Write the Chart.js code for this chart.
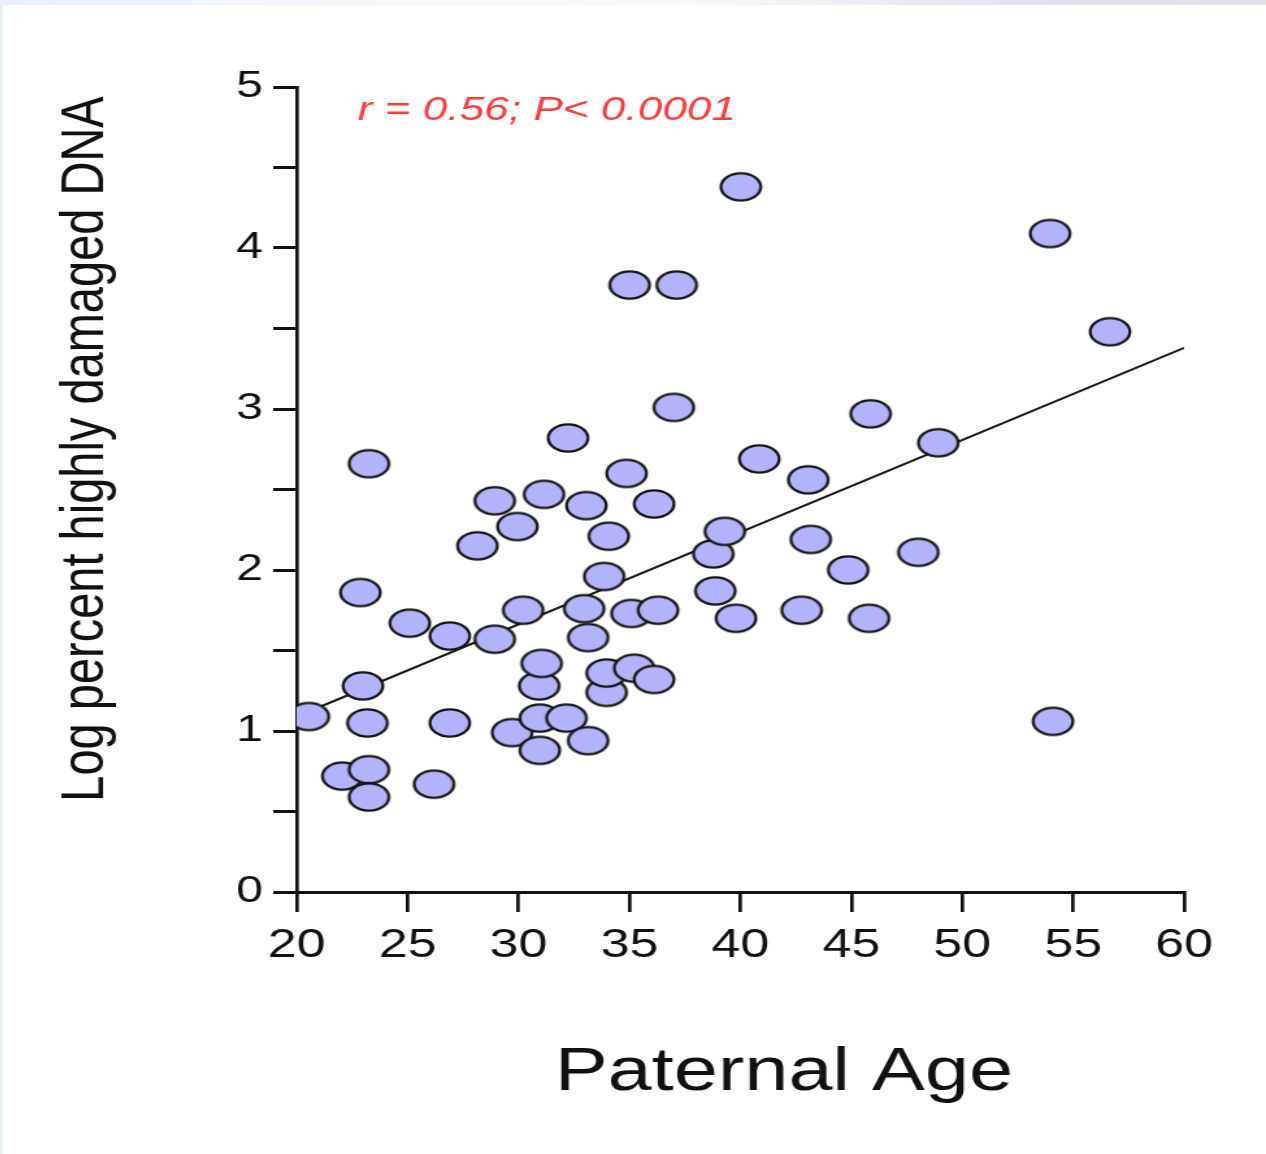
<!DOCTYPE html>
<html>
<head>
<meta charset="utf-8">
<script src="https://cdn.jsdelivr.net/npm/chart.js@4.4.1/dist/chart.umd.min.js"></script>
<style>
    html, body { margin: 0; padding: 0; width: 1266px; height: 1154px; overflow: hidden; background: #e7eff7; }
    .topStrip { position: absolute; left: 0; top: 0; width: 1266px; height: 5px;
        background: linear-gradient(to right, #e9f0fb, #f4f8fc 30%, #f9f7fd 55%, #e6e1ec 80%, #e2e0e8); }
    #ageChart { position: absolute; left: 3px; top: 5px; background: #fff; }
</style>
</head>
<body>
<div class="topStrip"></div>
<!-- drawn narrower and stretched sideways, like the original figure -->
<canvas id="ageChart" width="972" height="1149" style="width:1263px;height:1149px;"></canvas>
<script>
// paternal age vs log % highly damaged DNA
const ages = [20.55, 22.06, 23.26, 23.26, 23.19, 22.99, 22.87, 23.26, 25.10, 26.19,
    26.90, 26.90, 28.15, 28.93, 28.93, 29.95, 29.71, 30.21, 30.96, 30.96,
    30.93, 31.04, 31.15, 32.16, 32.23, 33.06, 32.96, 33.14, 33.14, 33.97,
    33.97, 34.07, 33.86, 34.87, 35.01, 35.09, 35.21, 36.11, 36.29, 36.11,
    37.13, 37.00, 38.78, 38.87, 39.30, 39.80, 40.02, 40.85, 42.76, 43.06,
    43.17, 44.86, 45.80, 45.87, 48.02, 48.92, 53.96, 54.09, 56.66];
const logDamage = [1.09, 0.72, 0.76, 0.59, 1.05, 1.28, 1.86, 2.66, 1.67, 0.67,
    1.59, 1.05, 2.15, 1.57, 2.43, 2.27, 0.99, 1.75, 0.88, 1.08,
    1.28, 1.42, 2.47, 1.08, 2.82, 2.40, 1.76, 1.58, 0.94, 1.24,
    1.36, 2.21, 1.96, 2.60, 3.77, 1.73, 1.39, 2.41, 1.75, 1.32,
    3.77, 3.01, 2.10, 1.87, 2.24, 1.70, 4.38, 2.69, 1.75, 2.56,
    2.19, 2.00, 1.70, 2.97, 2.11, 2.79, 4.09, 1.06, 3.48];

// regression line end points
const fitAges = [20, 60];
const fitValues = [1.09, 3.38];

const xTitle = 'Paternal Age';
const yTitle = 'Log percent highly damaged DNA';
const statsNote = 'r = 0.56; P< 0.0001';

const fontFamily = '"Liberation Sans", Arial, Helvetica, sans-serif';

// the figure's dots are slightly oval, so draw one and reuse it as the point style
function makeDot() {
    const c = document.createElement('canvas');
    c.width = 36;
    c.height = 32;
    const g = c.getContext('2d');
    g.beginPath();
    g.ellipse(18, 16, 15.3, 13.6, 0, 0, Math.PI * 2);
    g.fillStyle = '#b3b3fc';
    g.fill();
    g.lineWidth = 2.3;
    g.strokeStyle = '#141414';
    g.stroke();
    return c;
}

const textPlugin = {
    id: 'figureText',
    afterDraw(chart) {
        const ctx = chart.ctx;
        ctx.save();
        ctx.fillStyle = '#111';
        ctx.textAlign = 'center';
        ctx.textBaseline = 'middle';
        ctx.font = `61px ${fontFamily}`;
        ctx.fillText(xTitle, 601, 1068);

        ctx.translate(64, 444);
        ctx.rotate(-Math.PI / 2);
        ctx.font = `47px ${fontFamily}`;
        ctx.fillText(yTitle, 0, 0);
        ctx.restore();

        ctx.save();
        ctx.fillStyle = '#ff3c3c';
        ctx.textAlign = 'left';
        ctx.textBaseline = 'alphabetic';
        ctx.font = `italic 34px ${fontFamily}`;
        ctx.fillText(statsNote, 273, 115);
        ctx.restore();
    }
};

function initChart() {
    Chart.defaults.color = '#111';
    const ctx = document.getElementById('ageChart').getContext('2d');
    const points = ages.map((a, i) => ({ x: a, y: logDamage[i] }));
    const fit = fitAges.map((a, i) => ({ x: a, y: fitValues[i] }));

    new Chart(ctx, {
        type: 'scatter',
        data: {
            datasets: [
                { data: points, pointStyle: makeDot(), order: 1 },
                { data: fit, showLine: true, pointRadius: 0, borderColor: '#1a1a1a', borderWidth: 2, order: 2 }
            ]
        },
        options: {
            responsive: false,
            devicePixelRatio: 1,
            animation: false,
            layout: { padding: { left: 0, right: 63, top: 82, bottom: 0 } },
            plugins: { legend: { display: false }, tooltip: { enabled: false } },
            scales: {
                x: {
                    type: 'linear',
                    min: 20, max: 60,
                    afterFit: (scale) => { scale.height = 262; },
                    border: { display: true, color: '#111', width: 3 },
                    grid: { drawOnChartArea: false, drawTicks: true, tickLength: 20, color: '#111', lineWidth: 2.7 },
                    ticks: { stepSize: 5, padding: 10, maxRotation: 0, font: { family: fontFamily, size: 40 } }
                },
                y: {
                    min: 0, max: 5,
                    afterFit: (scale) => { scale.width = 226; },
                    border: { display: true, color: '#111', width: 2.7 },
                    grid: { drawOnChartArea: false, drawTicks: true, tickLength: 18, color: '#111', lineWidth: 3 },
                    ticks: {
                        stepSize: 0.5, padding: 8,
                        font: { family: fontFamily, size: 37 },
                        callback: (v) => Number.isInteger(v) ? v : ''
                    }
                }
            }
        },
        plugins: [textPlugin]
    });
}

document.addEventListener('DOMContentLoaded', () => {
    initChart();
});
</script>
</body>
</html>
